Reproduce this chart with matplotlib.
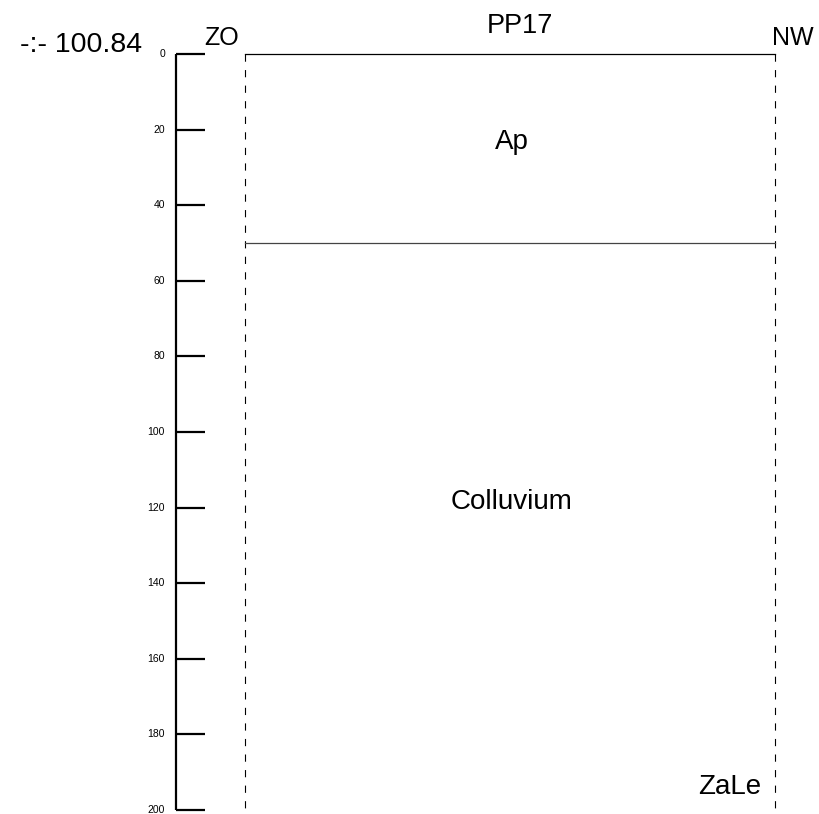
import matplotlib
matplotlib.use('Agg')
import matplotlib.pyplot as plt
import numpy as np

plt.rcParams['font.family'] = ['Liberation Sans', 'DejaVu Sans']

# profile data
profile_name = 'PP17'
elevation = '-:- 100.84'
side_left, side_right = 'ZO', 'NW'
substrate = 'ZaLe'
depth_ticks = [0, 20, 40, 60, 80, 100, 120, 140, 160, 180, 200]
horizon_names = ['Ap', 'Colluvium']
horizon_tops = [0, 50]
horizon_bottoms = [50, 200]
horizon_label_depths = [23.3, 118.5]
profile_depth = 200

# layout in pixel units (x) and depth (y)
W, H = 820, 814
y0, px_per_cm = 54, 3.78
ax_x, tick_len = 176, 29
left_x, right_x = 245.5, 775

fig = plt.figure(figsize=(W / 100, H / 100), dpi=100)
ax = fig.add_axes([0, 0, 1, 1])
ax.set_xlim(0, W)
ax.set_ylim((H - y0) / px_per_cm, -y0 / px_per_cm)
ax.axis('off')

# depth scale
ax.plot([ax_x, ax_x], [0, profile_depth], color='black', lw=1.6, solid_capstyle='butt')
for d in depth_ticks:
    ax.plot([ax_x, ax_x + tick_len], [d, d], color='black', lw=1.6, solid_capstyle='butt')
    ax.text(ax_x - 11, d, str(d), ha='right', va='center', fontsize=7.5)

# profile frame
ax.plot([left_x, right_x], [0, 0], color='black', lw=0.9)
for x in (left_x, right_x):
    ax.plot([x, x], [0, profile_depth], color='black', lw=0.8, dashes=(6.5, 7.5))

# horizons
for name, top, bot, ld in zip(horizon_names, horizon_tops, horizon_bottoms, horizon_label_depths):
    if top > 0:
        ax.plot([left_x, right_x], [top, top], color='#444444', lw=0.9)
    ax.text(512, ld, name, ha='center', va='center', fontsize=20)

# labels
ax.text(520, -7.3, profile_name, ha='center', va='center', fontsize=19.5)
ax.text(20, -2.3, elevation, ha='left', va='center', fontsize=20.5)
ax.text(204, -1, side_left, ha='left', va='bottom', fontsize=18)
ax.text(772, -1, side_right, ha='left', va='bottom', fontsize=18)
ax.text(761, 194, substrate, ha='right', va='center', fontsize=20)

fig.savefig('out.png', dpi=100)
